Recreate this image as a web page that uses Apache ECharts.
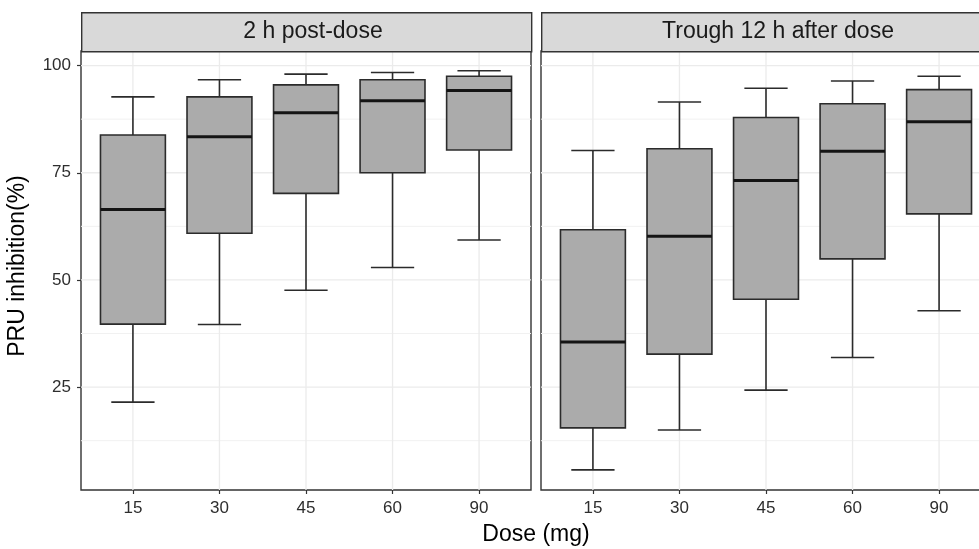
<!DOCTYPE html>
<html>
<head>
<meta charset="UTF-8">
<title>PRU inhibition by dose</title>
<script src="https://cdn.jsdelivr.net/npm/echarts@6/dist/echarts.min.js"></script>
<style>
  body { margin: 0; background: #ffffff; overflow: hidden; }
  /* the facet on the right runs past the edge of the picture, as in the source */
  #main { width: 1000px; height: 549px; }
</style>
</head>
<body>
<div id="main"></div>
<script>
// dose groups and facet titles
const doses = ['15', '30', '45', '60', '90'];
const panelTitles = ['2 h post-dose', 'Trough 12 h after dose'];

// each box: [lower whisker, Q1, median, Q3, upper whisker]
const postDose = [
  [21.5, 39.7, 66.4, 83.8, 92.7],
  [39.6, 60.9, 83.4, 92.7, 96.7],
  [47.6, 70.2, 89.0, 95.5, 98.0],
  [52.9, 75.0, 91.8, 96.7, 98.4],
  [59.3, 80.3, 94.2, 97.5, 98.8]
];
const trough = [
  [5.7, 15.5, 35.5, 61.7, 80.2],
  [15.0, 32.7, 60.2, 80.6, 91.5],
  [24.3, 45.5, 73.2, 87.9, 94.7],
  [31.9, 54.9, 80.0, 91.1, 96.4],
  [42.8, 65.4, 86.9, 94.4, 97.5]
];

const yTicks = [25, 50, 75, 100];
const yMinor = [12.5, 37.5, 62.5, 87.5];

// layout
const FONT = "'Liberation Sans', Arial, sans-serif";
const panelLeft = [81, 541];
const panelW = 450;
const panelTop = 51;
const panelH = 439;
const stripTop = 12;
const stripH = 39;
const stripTextX = [313, 778];

var chart = echarts.init(document.getElementById('main'));

const dims = panelTitles.map((t, k) => k);
const xPos = doses.map((d, i) => i + 1);

function gridRender(params, api) {
  const cs = params.coordSys;
  const kind = api.value(0);
  const v = api.value(1);
  if (kind === 2) {
    const x = api.coord([v, 50])[0];
    return { type: 'line', shape: { x1: x, y1: cs.y, x2: x, y2: cs.y + cs.height },
             style: { stroke: '#ebebeb', lineWidth: 1.3 }, silent: true };
  }
  const y = api.coord([1, v])[1];
  return { type: 'line', shape: { x1: cs.x, y1: y, x2: cs.x + cs.width, y2: y },
           style: { stroke: kind === 0 ? '#ebebeb' : '#f1f1f1', lineWidth: kind === 0 ? 1.3 : 1 }, silent: true };
}

function boxRender(params, api) {
  const x = api.value(0);
  const lo = api.coord([x, api.value(1)]);
  const q1 = api.coord([x, api.value(2)]);
  const med = api.coord([x, api.value(3)]);
  const q3 = api.coord([x, api.value(4)]);
  const hi = api.coord([x, api.value(5)]);
  const boxW = api.size([0.75, 0])[0];
  const capW = api.size([0.5, 0])[0];
  const cx = lo[0];
  const stroke = { stroke: '#2b2b2b', lineWidth: 1.6, fill: null };
  return {
    type: 'group',
    children: [
      { type: 'line', shape: { x1: cx, y1: lo[1], x2: cx, y2: hi[1] }, style: stroke },
      { type: 'line', shape: { x1: cx - capW / 2, y1: lo[1], x2: cx + capW / 2, y2: lo[1] }, style: stroke },
      { type: 'line', shape: { x1: cx - capW / 2, y1: hi[1], x2: cx + capW / 2, y2: hi[1] }, style: stroke },
      { type: 'rect', shape: { x: cx - boxW / 2, y: q3[1], width: boxW, height: q1[1] - q3[1] },
        style: { fill: '#ababab', stroke: '#2b2b2b', lineWidth: 1.6 } },
      { type: 'line', shape: { x1: cx - boxW / 2, y1: med[1], x2: cx + boxW / 2, y2: med[1] },
        style: { stroke: '#141414', lineWidth: 3 } }
    ]
  };
}

const gridData = yTicks.map(v => [0, v])
  .concat(yMinor.map(v => [1, v]))
  .concat(xPos.map(v => [2, v]));

const option = {
  backgroundColor: '#ffffff',
  animation: false,
  grid: dims.map(k => ({
    left: panelLeft[k], top: panelTop, width: panelW, height: panelH,
    show: true, backgroundColor: '#ffffff', borderColor: '#333333', borderWidth: 1.4
  })),
  xAxis: dims.map(k => ({
    type: 'value', gridIndex: k, min: 0.4, max: 5.6,
    axisLine: { show: false },
    splitLine: { show: false },
    axisTick: { show: true, length: 4, customValues: xPos, lineStyle: { color: '#333333', width: 1.2 } },
    axisLabel: {
      customValues: xPos, margin: 10, fontSize: 17, fontFamily: FONT, color: '#2e2e2e',
      formatter: v => doses[Math.round(v) - 1] || ''
    }
  })),
  yAxis: dims.map(k => ({
    type: 'value', gridIndex: k, min: 1.0, max: 103.4,
    axisLine: { show: false },
    splitLine: { show: false },
    axisTick: { show: k === 0, length: 4, customValues: yTicks, lineStyle: { color: '#333333', width: 1.2 } },
    axisLabel: {
      show: k === 0, customValues: yTicks, margin: 10, fontSize: 17, fontFamily: FONT, color: '#2e2e2e'
    }
  })),
  series: [
    ...dims.map(k => ({
      type: 'custom', xAxisIndex: k, yAxisIndex: k, z: 1, silent: true,
      renderItem: gridRender, data: gridData
    })),
    ...[postDose, trough].map((vals, k) => ({
      type: 'custom', xAxisIndex: k, yAxisIndex: k, z: 3,
      encode: { x: 0, y: [1, 2, 3, 4, 5] },
      renderItem: boxRender,
      data: vals.map((d, i) => [xPos[i]].concat(d))
    }))
  ],
  graphic: [
    ...dims.map(k => ({
      type: 'rect', left: panelLeft[k], top: stripTop, z: 10,
      shape: { width: panelW, height: stripH },
      style: { fill: '#d9d9d9', stroke: '#333333', lineWidth: 1.4 }
    })),
    ...dims.map(k => ({
      type: 'text', x: stripTextX[k], y: stripTop + stripH / 2, z: 11,
      style: { text: panelTitles[k], font: '23px ' + FONT, fill: '#1a1a1a',
               textAlign: 'center', textVerticalAlign: 'middle' }
    })),
    {
      type: 'text', x: 536, y: 535, z: 11,
      style: { text: 'Dose (mg)', font: '23px ' + FONT, fill: '#000000',
               textAlign: 'center', textVerticalAlign: 'middle' }
    },
    {
      type: 'text', x: 18, y: 266, z: 11, rotation: Math.PI / 2,
      style: { text: 'PRU inhibition(%)', font: '23px ' + FONT, fill: '#000000',
               textAlign: 'center', textVerticalAlign: 'middle' }
    }
  ]
};

chart.setOption(option);
</script>
</body>
</html>
